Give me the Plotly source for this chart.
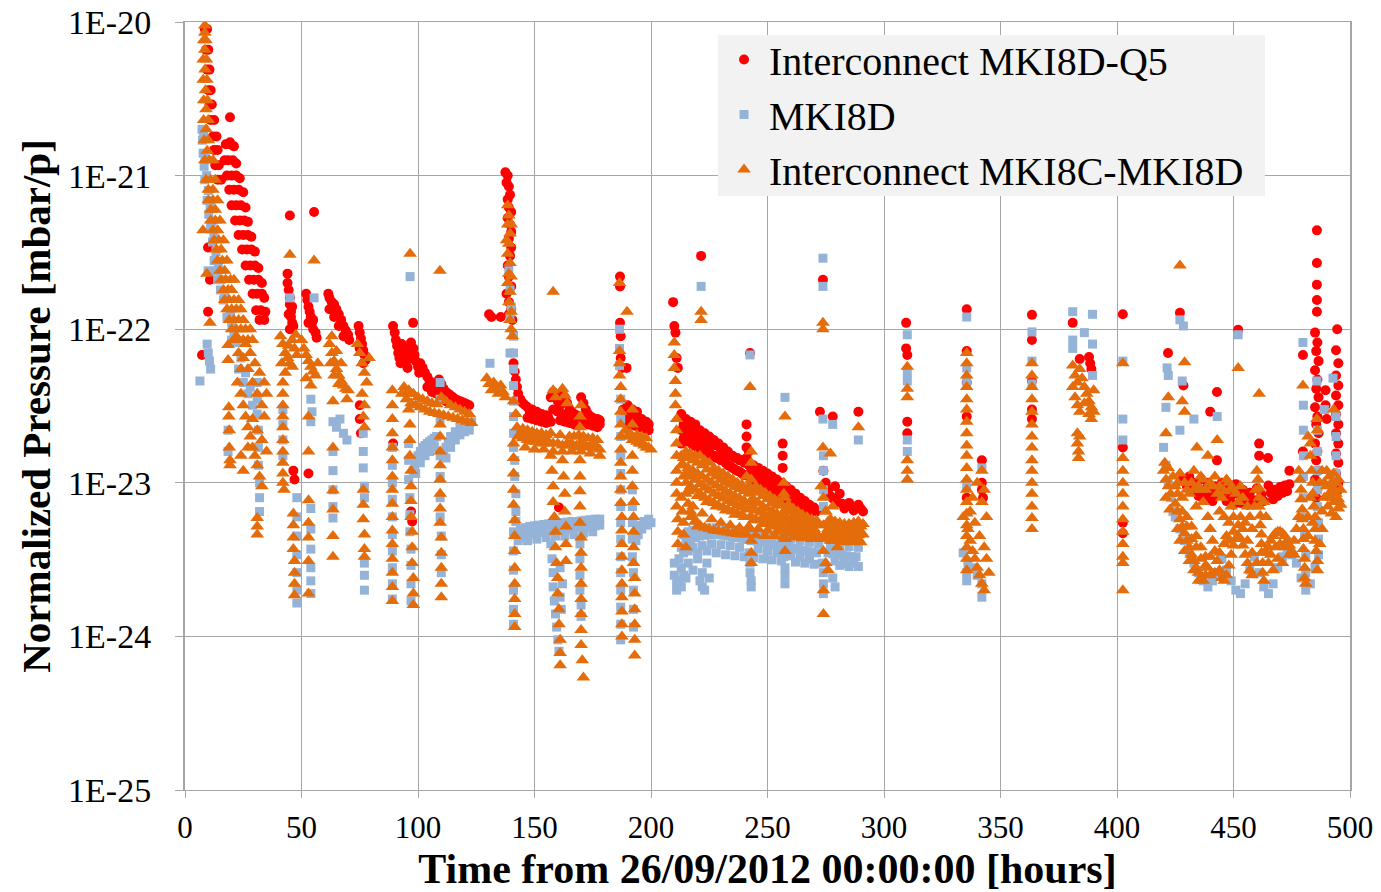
import plotly.graph_objects as go

# ---------------- axis / legend text ----------------
X_TICKS = [0, 50, 100, 150, 200, 250, 300, 350, 400, 450, 500]
Y_TICK_VALUES = [1e-25, 1e-24, 1e-23, 1e-22, 1e-21, 1e-20]
Y_TICK_LABELS = ["1E-25", "1E-24", "1E-23", "1E-22", "1E-21", "1E-20"]
SERIES_NAMES = ["Interconnect MKI8D-Q5", "MKI8D", "Interconnect MKI8C-MKI8D"]
X_TITLE = "Time from 26/09/2012 00:00:00 [hours]"
Y_TITLE = "Normalized Pressure [mbar/p]"

# ---------------- Interconnect MKI8D-Q5 (red) : (hours, mbar/p) ----------------
red_start = [
    (8.5, 9e-21), (9.5, 9e-21), (9, 6.6e-21), (10, 6.6e-21), (9.5, 4.9e-21), (10.5, 4.9e-21), (10, 3.6e-21), (11, 3.6e-21),
    (10.5, 2.9e-21), (11.5, 2.9e-21), (11, 2.3e-21), (12.5, 2.3e-21), (12, 1.8e-21), (13.5, 1.8e-21), (12.5, 1.47e-21),
    (14, 1.47e-21), (13, 1.17e-21), (14.5, 1.17e-21), (14, 9.4e-22), (15.5, 9.4e-22), (19.3, 2.4e-21), (19.3, 1.65e-21),
    (17.5, 1.6e-21), (19, 1.6e-21), (21, 1.55e-21), (17, 1.26e-21), (18.5, 1.26e-21), (20.5, 1.26e-21), (22, 1.2e-21),
    (18, 1e-21), (20, 1e-21), (22, 1e-21), (23.5, 9.6e-22), (19, 8.1e-22), (21, 8.1e-22), (23, 8.1e-22), (25, 7.8e-22),
    (20, 6.4e-22), (22, 6.4e-22), (24, 6.4e-22), (26, 6.2e-22), (21.5, 5.1e-22), (23.5, 5.1e-22), (25.5, 5.1e-22), (27, 5e-22),
    (23, 4.1e-22), (25, 4.1e-22), (27, 4.1e-22), (28.5, 4e-22), (24.5, 3.3e-22), (26.5, 3.3e-22), (28.5, 3.3e-22), (30, 3.2e-22),
    (26, 2.6e-22), (28, 2.6e-22), (30, 2.6e-22), (31.5, 2.5e-22), (27.5, 2.1e-22), (29.5, 2.1e-22), (31.5, 2.1e-22), (33, 2e-22),
    (29, 1.7e-22), (31, 1.7e-22), (33, 1.7e-22), (34, 1.6e-22), (30.5, 1.33e-22), (32.5, 1.33e-22), (34.5, 1.3e-22),
    (32, 1.15e-22), (34, 1.15e-22), (9.9, 3.4e-22), (10.7, 2.1e-22), (9.9, 1.3e-22), (7.3, 6.8e-23),
]
red_40_125 = [
    (45, 5.5e-22), (55.4, 5.8e-22), (44, 2.3e-22), (44, 2.0e-22), (44.5, 1.8e-22), (45, 1.6e-22), (45, 1.45e-22), (45.5, 1.3e-22),
    (45.5, 1.2e-22), (46, 1.1e-22), (46.5, 1.05e-22), (44.5, 1.25e-22), (45, 1.0e-22), (46, 1.4e-22),
    (52, 1.7e-22), (52.5, 1.55e-22), (53, 1.4e-22), (53.5, 1.3e-22), (54, 1.2e-22), (54.5, 1.1e-22), (55, 1.0e-22), (56, 9.5e-23),
    (53, 1.1e-22), (55, 1.15e-22), (56.5, 8.8e-23), (61.5, 1.7e-22), (62, 1.6e-22), (63, 1.5e-22), (64, 1.45e-22), (65, 1.35e-22),
    (66, 1.25e-22), (67, 1.15e-22), (68, 1.05e-22), (69, 9.8e-23), (70, 9.2e-23), (62, 1.35e-22), (64, 1.2e-22), (66, 1.05e-22),
    (68, 9e-23), (70.5, 8.5e-23), (74.5, 1.05e-22), (75, 9.5e-23), (75.5, 8.7e-23), (76, 8e-23), (76.5, 7.3e-23), (77, 6.8e-23),
    (77.5, 6.3e-23), (75, 7.5e-23), (76.5, 6e-23), (75, 3.2e-23), (75, 2.6e-23), (75.5, 2.1e-23), (46.5, 1.2e-23), (47, 1.05e-23),
    (53, 1.15e-23), (89.3, 1.05e-22), (97.9, 1.1e-22), (89.3, 1.8e-23), (97, 6.5e-24), (97.5, 5.6e-24),
    (90, 9.5e-23), (90.5, 8.5e-23), (91, 7.8e-23), (91.5, 7e-23), (92, 6.5e-23), (92.5, 6e-23), (93, 8e-23), (94, 7.5e-23),
    (94.5, 6.8e-23), (95, 6.2e-23), (95.5, 5.6e-23), (96, 7.2e-23), (96.5, 6.5e-23), (97, 8.2e-23), (98, 7.5e-23), (98.5, 6.8e-23),
    (99, 6.2e-23), (100, 5.7e-23), (100.5, 5.2e-23), (101, 6e-23), (102, 5.6e-23), (103, 5.2e-23), (104, 4.9e-23), (105, 4.6e-23),
    (106, 4.4e-23), (107, 4.2e-23), (108, 4.5e-23), (109, 4.7e-23), (110, 4.4e-23), (111, 4.1e-23), (112, 3.9e-23), (113, 3.8e-23),
    (114, 3.7e-23), (115, 3.6e-23), (116, 3.5e-23), (117, 3.45e-23), (118, 3.4e-23), (119, 3.35e-23), (120, 3.3e-23),
    (121, 3.25e-23), (122, 3.2e-23), (104, 4.2e-23), (106, 3.9e-23), (108, 3.8e-23), (110, 3.6e-23), (112, 3.4e-23),
    (114, 3.3e-23), (116, 3.2e-23), (118, 3.1e-23), (120, 3.0e-23),
]
red_128_200 = [
    (130.5, 1.25e-22), (131.5, 1.2e-22), (135.5, 1.2e-22), (137.5, 1.05e-21), (138.5, 1.0e-21), (138, 9e-22), (139, 8.5e-22),
    (139.5, 7.5e-22), (138.5, 7e-22), (139, 6.2e-22), (140, 5.8e-22), (138.5, 5.3e-22), (139.5, 4.8e-22), (140, 4.3e-22),
    (139, 3.9e-22), (140, 3.4e-22), (139.5, 3e-22), (138.5, 2.6e-22), (139, 2.2e-22), (140, 1.9e-22), (138, 1.7e-22),
    (139, 1.5e-22), (140, 1.35e-22), (139, 1.25e-22), (140.5, 1.15e-22), (141, 6e-23), (141.5, 5.3e-23), (142, 4.7e-23),
    (142.5, 4.2e-23), (143, 3.8e-23), (144, 3.5e-23), (145, 3.3e-23), (146, 3.2e-23),
    (147, 3.1e-23), (148, 2.9e-23), (149, 3.0e-23), (150, 2.8e-23), (151, 2.9e-23), (152, 2.75e-23), (153, 2.8e-23), (154, 2.7e-23),
    (155, 2.75e-23), (156, 2.65e-23), (157, 3.6e-23), (158, 3.9e-23), (159, 3.7e-23), (160, 3.4e-23), (161, 3.2e-23), (162, 3.9e-23),
    (163, 3.6e-23), (164, 3.3e-23), (165, 3.0e-23), (166, 2.9e-23), (167, 2.8e-23), (168, 2.75e-23), (170, 3.6e-23), (171, 3.3e-23),
    (172, 3.0e-23), (173, 2.8e-23), (174, 2.7e-23), (175, 2.65e-23), (176, 2.6e-23), (177, 2.6e-23), (178, 2.55e-23),
    (158, 3.0e-23), (160, 2.9e-23), (162, 2.8e-23), (164, 2.7e-23), (166, 2.6e-23), (169, 2.7e-23), (178, 2.4e-23),
    (147, 2.65e-23), (149, 2.6e-23), (151, 2.55e-23), (153, 2.5e-23), (155, 2.45e-23), (157, 2.5e-23), (161, 2.55e-23),
    (163, 2.5e-23), (165, 2.45e-23), (167, 2.4e-23), (171, 2.45e-23), (173, 2.4e-23), (175, 2.35e-23), (177, 2.3e-23),
    (160, 5.5e-24), (160.5, 6.9e-24), (186.7, 2.2e-22), (186.7, 1.9e-22), (186.7, 1.1e-22), (187, 9e-23), (187, 6.5e-23),
    (187.5, 5.6e-23), (189.5, 5.6e-23), (188, 3.0e-23), (189, 2.8e-23), (190, 2.7e-23), (191, 2.8e-23), (192, 2.6e-23),
    (193, 2.7e-23), (194, 2.55e-23), (195, 2.5e-23), (196, 2.6e-23), (197, 2.45e-23), (198, 2.5e-23), (199, 2.4e-23),
    (190, 3.2e-23), (192, 3.0e-23), (194, 2.9e-23), (189, 2.45e-23), (191, 2.4e-23), (193, 2.35e-23), (195, 2.3e-23),
    (197, 2.25e-23), (199, 2.2e-23),
]
red_208_292 = [
    (209.5, 1.5e-22), (210, 1.05e-22), (210.5, 9.5e-23), (211, 6.5e-23), (211.5, 5.6e-23), (221.5, 3.0e-22), (242.5, 7e-23),
    (273.8, 2.1e-22), (272.5, 2.9e-23), (278, 2.7e-23), (289, 2.9e-23),
    (213, 2.8e-23), (213, 2.2e-23), (213, 1.8e-23), (215, 2.6e-23), (215, 2.1e-23), (217, 2.5e-23), (217, 2.0e-23), (219, 2.4e-23),
    (219, 1.9e-23), (221, 2.2e-23), (221, 1.8e-23), (223, 2.1e-23), (223, 1.7e-23), (225, 2.0e-23), (225, 1.6e-23), (227, 1.9e-23),
    (227, 1.5e-23), (229, 1.8e-23), (229, 1.45e-23), (231, 1.7e-23), (231, 1.4e-23), (233, 1.6e-23), (233, 1.3e-23), (235, 1.5e-23),
    (235, 1.25e-23), (237, 1.45e-23), (237, 1.2e-23), (239, 1.4e-23), (239, 1.15e-23), (241, 2.4e-23), (241, 2.0e-23),
    (241, 1.7e-23), (241, 1.45e-23), (242, 1.6e-23), (242, 1.3e-23), (242, 1.1e-23), (244, 1.3e-23), (244, 1.05e-23),
    (246, 1.25e-23), (246, 1.0e-23), (248, 1.2e-23), (248, 9.6e-24), (250, 1.15e-23), (250, 9.2e-24), (252, 1.1e-23),
    (252, 8.8e-24), (254, 1.05e-23), (254, 8.4e-24), (256.5, 1.8e-23), (256.5, 1.5e-23), (256.5, 1.25e-23), (256, 1.0e-23),
    (256, 8.0e-24), (258, 9.5e-24), (258, 7.7e-24), (260, 9.0e-24), (260, 7.3e-24), (262, 8.5e-24), (262, 7.0e-24),
    (264, 8.0e-24), (264, 6.7e-24), (266, 7.6e-24), (266, 6.5e-24), (268, 7.2e-24), (268, 6.3e-24), (270, 6.9e-24),
    (274, 1.2e-23), (275, 1.0e-23), (276, 9e-24), (277, 8.2e-24), (278, 7.9e-24), (280, 7.5e-24), (282, 7.3e-24),
    (284, 7.1e-24), (286, 7.0e-24), (288, 6.9e-24), (290, 6.8e-24), (279, 9.5e-24), (281, 8.5e-24),
    (214, 2.4e-23), (214, 1.95e-23), (216, 2.3e-23), (216, 1.85e-23), (218, 2.2e-23), (218, 1.75e-23), (220, 2.1e-23),
    (220, 1.7e-23), (222, 2.0e-23), (222, 1.6e-23), (224, 1.9e-23), (224, 1.55e-23), (226, 1.8e-23), (226, 1.5e-23),
    (228, 1.75e-23), (228, 1.45e-23), (230, 1.65e-23), (230, 1.4e-23), (232, 1.6e-23), (232, 1.35e-23), (234, 1.5e-23),
    (234, 1.28e-23), (236, 1.45e-23), (236, 1.22e-23), (238, 1.4e-23), (238, 1.18e-23), (240, 1.35e-23), (240, 1.12e-23),
    (243, 1.2e-23), (245, 1.15e-23), (247, 1.1e-23), (249, 1.05e-23), (251, 1.0e-23), (253, 9.6e-24), (255, 9.2e-24),
    (257, 8.8e-24), (259, 8.4e-24), (261, 8.0e-24), (263, 7.6e-24), (265, 7.2e-24), (267, 6.9e-24), (269, 6.6e-24),
    (271, 6.5e-24), (245, 9.3e-24), (249, 8.7e-24), (253, 8e-24), (257, 7.4e-24), (261, 6.9e-24), (265, 6.6e-24),
    (283, 6.8e-24), (285, 7.4e-24), (287, 6.6e-24), (289, 7.2e-24), (291, 6.5e-24),
]
red_300_500 = [
    (309.5, 1.1e-22), (309.5, 7.5e-23), (310, 6.8e-23), (310, 2.5e-23), (310, 2.1e-23), (335.5, 1.35e-22), (335.5, 7.2e-23),
    (335.5, 4.5e-23), (335.5, 2.7e-23), (335.5, 8e-24), (342, 1.4e-23), (342, 1.0e-23), (342, 9e-24), (342.5, 8e-24),
    (363.5, 1.24e-22), (363.5, 8.5e-23), (363.5, 4.6e-23), (363.5, 3e-23), (363.5, 2.6e-23), (381, 1.1e-22), (384, 6.4e-23),
    (388, 6.6e-23), (388.5, 6e-23), (389, 5.5e-23), (402.5, 1.25e-22), (402.5, 1.7e-23), (402.5, 5.5e-24), (402.5, 4.7e-24),
    (421.9, 7e-23), (427, 1.28e-22), (428.5, 4.3e-23), (442.9, 3.9e-23), (440, 2.9e-23), (442.9, 1.4e-23), (452, 9.9e-23),
    (461, 1.8e-23), (461, 1.5e-23), (464.8, 1.45e-23), (474, 1.2e-23), (479.8, 1.6e-23), (479.8, 6.8e-23),
    (428, 1.05e-23), (430, 9.5e-24), (431, 1.1e-23), (432, 8.8e-24), (433, 1.0e-23), (434, 9.2e-24), (435, 8.2e-24),
    (436, 1.05e-23), (437, 9e-24), (438, 8e-24), (439, 1.0e-23), (440, 8.7e-24), (441, 7.6e-24), (442, 9.5e-24), (443, 8.3e-24),
    (445, 1.0e-23), (446, 8.8e-24), (447, 7.6e-24), (448, 9.4e-24), (449, 8.2e-24), (450, 7.2e-24), (451, 9.8e-24),
    (452, 8.5e-24), (453, 7.4e-24), (454, 9e-24), (455, 8e-24), (456, 7.2e-24), (457, 8.6e-24), (459, 7.7e-24), (460, 9.2e-24),
    (462, 8.4e-24), (463, 7.6e-24), (465, 9.6e-24), (466, 8.6e-24), (467, 7.8e-24), (468, 9.0e-24), (469, 8.2e-24),
    (470, 9.4e-24), (471, 8.6e-24), (472, 9.6e-24), (473, 8.8e-24), (474, 9.8e-24),
    (485.8, 4.4e-22), (485.8, 2.7e-22), (485.8, 1.95e-22), (485.8, 1.55e-22), (485.8, 1.3e-22),
    (485, 9.5e-23), (486, 8.2e-23), (485.5, 7.2e-23), (486.5, 6.2e-23), (485, 5.4e-23), (486, 4.7e-23), (485.5, 4.1e-23),
    (486.5, 3.6e-23), (485, 3.1e-23), (486, 2.7e-23), (485.5, 2.4e-23), (486.5, 2.1e-23), (485, 1.8e-23), (486, 1.6e-23),
    (485.5, 1.4e-23), (486.5, 1.2e-23), (485, 1.05e-23), (486, 9e-24), (485.5, 8e-24), (489.5, 4e-23), (489.5, 3.2e-23),
    (490, 2.6e-23), (494.5, 1.0e-22), (494, 7.3e-23), (495, 6e-23), (494, 5e-23), (495, 4.3e-23), (494, 3.7e-23),
    (495, 3.2e-23), (494, 2.8e-23), (495, 2.4e-23), (494, 2.1e-23), (495, 1.8e-23), (494, 1.55e-23), (495, 1.35e-23),
    (494, 1.15e-23), (495, 1.0e-23), (494.5, 8.8e-24),
]

# ---------------- MKI8D (light blue) ----------------
blue_start = [
    (6.4, 4.6e-23), (9.5, 8e-23), (10, 7e-23), (10.5, 6.2e-23), (11, 5.5e-23),
    (7.3, 2.0e-21), (7.5, 1.7e-21), (7.8, 1.4e-21), (8.2, 1.15e-21), (8.5, 9.4e-22), (9.5, 6.9e-22), (10.2, 5.6e-22),
    (11, 4.6e-22), (11.8, 3.7e-22), (12.5, 2.8e-22), (13.3, 2.4e-22), (14, 2.1e-22), (15.2, 1.8e-22), (16.5, 1.55e-22),
    (18, 1.2e-22), (20, 8.5e-23), (22, 8.2e-23), (8, 1.8e-21), (8.6, 1.3e-21), (9.3, 1e-21), (10, 8e-22), (10.8, 6.3e-22),
    (11.6, 5e-22), (12.4, 4e-22), (13.3, 3.2e-22), (14.3, 2.6e-22), (15.5, 2.1e-22), (17, 1.7e-22),
    (9.9, 2.4e-22), (19.5, 1.3e-22), (20, 1.1e-22), (21, 9.5e-23), (18.5, 2.2e-23), (18.5, 1.6e-23),
    (31, 4.5e-23), (31, 3.5e-23), (31, 2.8e-23), (31.5, 2.2e-23), (31.5, 1.7e-23), (31.5, 1.3e-23), (32, 1.0e-23), (32, 8e-24),
    (32, 6.5e-24), (23, 5.5e-23), (25, 4.5e-23), (27, 3.8e-23), (29, 3.2e-23), (24, 6.5e-23), (26, 5.2e-23), (28, 4.2e-23),
]
blue_40_125 = [
    (45, 1.6e-22), (55.4, 1.6e-22), (96.6, 2.2e-22), (42, 3e-23), (42, 2.4e-23), (42, 1.9e-23), (42, 1.5e-23),
    (48, 8e-24), (48, 6e-24), (48, 4.5e-24), (48, 3.4e-24), (48, 2.6e-24), (48, 2.0e-24), (48, 1.65e-24),
    (54, 3.5e-23), (54.5, 2.9e-23), (54, 2.5e-23), (54, 6.8e-24), (54, 5e-24), (54, 3.7e-24), (54, 2.8e-24), (54, 2.3e-24),
    (54, 1.9e-24), (63.5, 2.5e-23), (65, 2.3e-23), (66.5, 2.6e-23), (68, 2.1e-23), (69.5, 1.9e-23), (63.5, 1.6e-23),
    (63.5, 1.2e-23), (63.5, 9e-24), (63.5, 7e-24), (63.5, 5.9e-24), (76.5, 2.1e-23), (76.5, 1.6e-23), (76.5, 1.25e-23),
    (77, 9.5e-24), (77, 8e-24), (77, 3e-24), (77, 2.5e-24), (77, 2.0e-24),
    (89, 1.7e-23), (89, 1.3e-23), (89, 1.0e-23), (89, 7.8e-24), (89, 6e-24), (89, 4.6e-24), (89, 3.6e-24), (89, 2.8e-24),
    (89, 2.2e-24), (89, 1.75e-24), (96, 1.8e-23), (96, 1.4e-23), (96, 1.05e-23), (96.5, 8e-24), (96.5, 6.2e-24),
    (96.5, 4.8e-24), (97, 3.7e-24), (97, 2.9e-24), (97, 2.2e-24), (97, 1.7e-24),
    (98, 1.2e-23), (99, 1.35e-23), (100, 1.5e-23), (101, 1.6e-23), (102, 1.7e-23), (103, 1.75e-23), (104, 1.8e-23),
    (105, 1.85e-23), (106, 1.9e-23), (107, 1.95e-23), (108, 2.0e-23), (109.5, 4.5e-23), (109.5, 3.5e-23), (109.5, 2.6e-23),
    (109.5, 1.5e-23), (109.5, 1.1e-23), (109.5, 8e-24), (109.5, 6e-24), (110, 4.5e-24), (110, 3.4e-24), (110, 2.6e-24),
    (111, 1.5e-23), (112, 1.7e-23), (113, 1.85e-23), (114, 2e-23), (116, 2.15e-23), (118, 2.3e-23), (120, 2.4e-23),
    (122, 2.45e-23), (123, 2.5e-23), (99, 1.15e-23), (101, 1.35e-23), (103, 1.5e-23), (105, 1.6e-23), (107, 1.7e-23),
    (112, 1.45e-23), (114, 1.7e-23), (116, 1.9e-23), (118, 2.05e-23), (120, 2.15e-23), (122, 2.2e-23),
]
blue_128_200 = [
    (130.9, 6e-23), (139.5, 7e-23), (139, 2.4e-22), (139.5, 1.8e-22), (140, 1.4e-22), (139.5, 1.2e-22),
    (141, 9e-23), (141, 7e-23), (141, 5.5e-23), (141, 4.3e-23), (141, 3.4e-23), (141, 2.7e-23), (141, 2.1e-23), (141, 1.7e-23),
    (141.5, 1.4e-23), (141.5, 1.1e-23), (142, 8.5e-24), (142, 6.5e-24), (142, 5.6e-24), (141, 4.8e-24), (141, 3.6e-24),
    (141, 2.7e-24), (141, 2.0e-24), (141, 1.5e-24), (141, 1.2e-24),
    (143, 4.2e-24), (144, 4.4e-24), (145, 4.5e-24), (146, 4.6e-24), (148, 4.65e-24), (150, 4.7e-24), (152, 4.75e-24),
    (154, 4.8e-24), (156, 4.85e-24), (158, 4.9e-24), (160, 4.9e-24), (162, 4.95e-24), (164, 5.0e-24), (166, 5.0e-24),
    (168, 5.1e-24), (170, 5.1e-24), (172, 5.15e-24), (174, 5.2e-24), (176, 5.25e-24), (178, 5.3e-24),
    (147, 4.2e-24), (151, 4.3e-24), (155, 4.4e-24), (159, 4.5e-24), (163, 4.5e-24), (167, 4.6e-24), (171, 4.7e-24),
    (175, 4.8e-24), (144, 5.0e-24), (146, 5.1e-24), (148, 5.2e-24), (150, 5.25e-24), (152, 5.3e-24), (154, 5.35e-24),
    (156, 5.4e-24), (158, 5.45e-24), (160, 5.5e-24), (162, 5.5e-24), (164, 5.55e-24), (166, 5.6e-24), (168, 5.6e-24),
    (170, 5.65e-24), (172, 5.7e-24), (174, 5.75e-24), (176, 5.8e-24), (178, 5.8e-24), (149, 4.9e-24), (153, 5.0e-24),
    (157, 5.1e-24), (161, 5.2e-24), (165, 5.25e-24), (169, 5.3e-24), (173, 5.4e-24), (177, 5.5e-24),
    (157, 4e-24), (157.5, 3.2e-24), (158, 2.6e-24), (158, 2.1e-24), (158.5, 1.7e-24), (159, 1.4e-24),
    (159.5, 1.15e-24), (160, 9.5e-25), (160.5, 8e-25), (161, 2.8e-24), (162, 2.2e-24), (161, 1.8e-24), (161.5, 1.5e-24),
    (169.5, 4e-24), (169.5, 3.2e-24), (169.5, 2.5e-24), (169.5, 2.0e-24), (170, 1.6e-24), (170, 1.35e-24),
    (186.5, 1.0e-22), (186.5, 7.5e-23), (186.5, 5.8e-23), (187, 3.5e-23), (187, 2.6e-23), (187, 2.0e-23), (187, 1.5e-23),
    (187, 1.15e-23), (187, 9e-24), (187, 7e-24), (187, 5.5e-24), (187, 4.3e-24), (187, 3.3e-24), (187, 2.6e-24), (187, 2.0e-24),
    (187, 1.55e-24), (187, 1.2e-24), (187, 9.5e-25), (192, 9e-24), (192, 7e-24), (192, 5.5e-24), (192, 4.3e-24), (192, 3.3e-24),
    (192.5, 2.6e-24), (192.5, 2e-24), (192.5, 1.5e-24), (192.5, 1.15e-24), (193.5, 4.2e-24), (194.5, 4.6e-24), (196, 5e-24),
    (198, 5.3e-24), (200, 5.5e-24), (195, 5.3e-24), (197, 5.6e-24), (199, 5.8e-24),
]
blue_208_292 = [
    (221.5, 1.9e-22), (242.5, 6.8e-23), (257.5, 3.6e-23), (273.8, 2.9e-22), (273.8, 1.9e-22), (273.8, 2.6e-23), (278, 2.4e-23),
    (289, 1.9e-23), (210, 3e-24), (210, 2.5e-24), (211, 2.2e-24),
    (213, 3.8e-24), (215, 4.1e-24), (217, 4.3e-24), (219, 4.4e-24), (221, 4.5e-24), (223, 4.55e-24), (225, 4.6e-24),
    (227, 4.6e-24), (229, 4.6e-24), (231, 4.55e-24), (233, 4.5e-24), (235, 4.45e-24), (237, 4.4e-24), (239, 4.35e-24),
    (241, 4.3e-24), (243, 4.2e-24), (245, 4.2e-24), (247, 4.15e-24), (249, 4.1e-24), (251, 4.0e-24), (253, 3.95e-24),
    (255, 3.9e-24), (257, 3.85e-24), (259, 3.8e-24), (261, 3.75e-24), (263, 3.7e-24), (265, 3.65e-24), (267, 3.6e-24),
    (269, 3.55e-24), (271, 3.5e-24), (276, 3.5e-24), (278, 3.45e-24), (280, 3.4e-24), (282, 3.4e-24), (284, 3.35e-24),
    (286, 3.3e-24), (288, 3.3e-24), (214, 3.5e-24), (218, 3.8e-24), (222, 3.9e-24), (226, 4.0e-24), (230, 3.95e-24),
    (234, 3.9e-24), (238, 3.8e-24), (246, 3.7e-24), (250, 3.6e-24), (254, 3.5e-24), (260, 3.35e-24), (264, 3.3e-24),
    (268, 3.2e-24), (279, 3.1e-24), (283, 3.0e-24), (287, 3.0e-24), (212, 3.2e-24), (213, 2.8e-24), (214, 2.5e-24),
    (216, 3.0e-24), (218, 2.7e-24), (220, 3.2e-24), (222, 2.6e-24), (224, 3.0e-24), (242, 3.5e-24), (242.5, 3e-24),
    (242.5, 2.6e-24), (257, 3.3e-24), (257.5, 2.8e-24), (257.5, 2.5e-24), (273.5, 3.0e-24), (274, 2.6e-24), (274, 2.2e-24),
    (274, 1.9e-24), (274, 1.5e-23), (274, 1.2e-23), (274, 9e-24), (274, 7e-24),
    (214, 4.6e-24), (216, 4.8e-24), (218, 4.9e-24), (220, 5.0e-24), (224, 5.1e-24), (228, 5.1e-24), (232, 5.05e-24),
    (236, 4.95e-24), (240, 4.85e-24), (244, 4.7e-24), (248, 4.6e-24), (252, 4.5e-24), (256, 4.4e-24), (260, 4.3e-24),
    (264, 4.2e-24), (268, 4.1e-24), (272, 4.0e-24), (277, 3.95e-24), (281, 3.9e-24), (285, 3.85e-24), (289, 3.8e-24),
    (216, 3.6e-24), (220, 3.5e-24), (224, 3.6e-24), (228, 3.5e-24), (232, 3.4e-24), (236, 3.35e-24), (240, 3.3e-24),
    (244, 3.25e-24), (248, 3.2e-24), (252, 3.15e-24), (256, 3.1e-24), (262, 3.05e-24), (266, 3.0e-24), (270, 2.95e-24),
    (281, 2.9e-24), (285, 2.85e-24), (289, 2.85e-24),
    (211, 2.0e-24), (212, 2.3e-24), (213, 2.1e-24), (215, 2.4e-24), (221, 2.3e-24), (222, 2.1e-24), (223, 2.0e-24),
    (225, 2.4e-24), (243, 2.3e-24), (243, 2.1e-24), (257.5, 2.2e-24), (278, 2.4e-24), (279, 2.1e-24),
]
blue_300_500 = [
    (310, 9.2e-23), (310, 5.2e-23), (310, 4.6e-23), (310, 1.9e-23), (310, 1.6e-23), (335.5, 1.2e-22), (335.5, 5.6e-23),
    (335.5, 4.6e-23), (335.5, 9.4e-24), (335.5, 2.6e-24), (335.5, 2.3e-24), (334, 3.5e-24), (336, 3e-24), (338, 2.8e-24),
    (340, 2.5e-24), (342, 2.2e-24), (342, 1.8e-24), (342, 1.25e-23), (363.5, 9.6e-23), (363.5, 6.2e-23), (363.5, 4.4e-23),
    (381, 1.3e-22), (389.5, 1.25e-22), (386, 9.5e-23), (381, 8.5e-23), (381, 7.5e-23), (389.5, 8e-23), (389.5, 5e-23),
    (402.5, 6.2e-23), (402.5, 2.6e-23), (402.5, 1.9e-23), (427, 1.15e-22), (428.5, 1.05e-22), (421.5, 5.6e-23), (422, 5e-23),
    (428, 4.6e-23), (421, 3.1e-23), (427, 2.2e-23), (433, 2.6e-23), (443, 2.7e-23), (452, 9.2e-23), (479.8, 8.2e-23),
    (485.8, 4.6e-23), (489, 3e-23), (492.7, 4.8e-23), (420, 1.7e-23), (421, 1.3e-23), (422, 1.0e-23), (423, 8e-24),
    (424, 6.5e-24), (425, 6e-24), (427, 5e-24), (429, 4.2e-24), (431, 3.5e-24), (433, 3e-24), (435, 2.6e-24), (437, 2.3e-24),
    (439, 2.1e-24), (441, 2.3e-24), (443, 2.6e-24), (445, 3.2e-24), (447, 2.7e-24), (449, 2.3e-24), (451, 2.0e-24),
    (453, 1.9e-24), (455, 2.2e-24), (457, 2.7e-24), (459, 3.3e-24), (461, 2.6e-24), (463, 2.1e-24), (465, 1.9e-24),
    (467, 2.2e-24), (469, 2.8e-24), (471, 3.3e-24), (473, 3.6e-24), (475, 3.4e-24), (477, 3.0e-24), (479, 2.4e-24),
    (481, 2.0e-24), (483, 2.2e-24), (485, 2.8e-24), (480, 3.2e-23), (480, 2.2e-23), (480, 1.5e-23), (480, 1.1e-23),
    (480, 8e-24), (480.5, 6e-24), (480.5, 4.5e-24), (481, 3.4e-24), (481, 2.6e-24), (486, 2.2e-23), (486, 1.6e-23),
    (486, 1.2e-23), (486, 9e-24), (486, 7e-24), (486.5, 5.5e-24), (486.5, 4.3e-24), (486.5, 3.4e-24), (494, 2.7e-23),
    (494, 2.0e-23), (494, 1.5e-23), (494, 1.15e-23),
]

# ---------------- Interconnect MKI8C-MKI8D (orange) ----------------
orange_start = [
    (8.5, 9.5e-21), (8.5, 8.5e-21), (8, 7.6e-21), (9, 7.6e-21), (7.8, 5.7e-21), (9.2, 5.7e-21), (8.5, 6.6e-21), (7.8, 4.2e-21),
    (9.4, 4.2e-21), (8.6, 4.9e-21), (8, 3.1e-21), (9.6, 3.1e-21), (8.8, 3.6e-21), (8, 2.3e-21), (10, 2.3e-21), (9, 2.7e-21),
    (8.2, 1.7e-21), (10, 1.7e-21), (9.1, 2.0e-21), (8.5, 1.26e-21), (10.5, 1.26e-21), (12, 1.26e-21), (9.5, 1.45e-21),
    (9, 9.4e-22), (11, 9.4e-22), (13, 9.4e-22), (10, 6.9e-22), (12, 6.9e-22), (14, 6.9e-22), (11, 5.1e-22), (13, 5.1e-22),
    (15, 5.1e-22), (12.5, 3.8e-22), (14.5, 3.8e-22), (16.5, 3.8e-22), (14, 2.8e-22), (16, 2.8e-22), (18, 2.8e-22),
    (15.5, 2.1e-22), (17.5, 2.1e-22), (19.5, 2.1e-22), (21, 2.1e-22), (17, 1.55e-22), (19, 1.55e-22), (21, 1.55e-22),
    (23, 1.55e-22), (19, 1.15e-22), (21, 1.15e-22), (23, 1.15e-22), (25, 1.15e-22), (21, 8.5e-23), (23, 8.5e-23),
    (25, 8.5e-23), (27, 8.5e-23), (29, 8.5e-23), (10, 8.1e-22), (12, 8.1e-22), (11, 6e-22), (13, 6e-22), (12, 4.4e-22),
    (14, 4.4e-22), (13.5, 3.3e-22), (15.5, 3.3e-22), (15, 2.4e-22), (17, 2.4e-22), (16.5, 1.8e-22), (18.5, 1.8e-22),
    (20, 1.8e-22), (18, 1.35e-22), (20, 1.35e-22), (22, 1.35e-22), (24, 1.35e-22), (20, 1.0e-22), (22, 1.0e-22),
    (24, 1.0e-22), (26, 1.0e-22), (28, 1.0e-22), (7.7, 4.4e-22), (9.4, 2.3e-22), (10.7, 1.1e-22),
    (18.5, 7.9e-23), (18.5, 6.3e-23), (18.8, 3.1e-23), (18.8, 2.7e-23), (19, 2.2e-23), (19, 1.7e-23), (19.3, 1.4e-23),
    (19.3, 1.3e-23), (22, 9e-23), (23, 7e-23), (24, 5.5e-23), (22.5, 4.5e-23), (24, 3.8e-23), (25, 3.2e-23), (26, 2.7e-23),
    (27, 2.3e-23), (28, 2e-23), (29, 1.7e-23), (30, 1.5e-23), (31, 1.3e-23), (32, 1.1e-23), (33, 9.5e-24), (25, 6.5e-23),
    (27, 5.5e-23), (29, 4.5e-23), (31, 3.8e-23), (33, 3.2e-23), (34, 2.7e-23), (26, 8e-23), (28, 7e-23), (30, 6e-23),
    (32, 5.2e-23), (34, 4.5e-23), (35, 3.8e-23), (24, 1.5e-23), (25, 1.2e-23), (27, 1.7e-23), (29, 2.6e-23), (31, 2.2e-23),
    (33, 1.9e-23), (35, 1.6e-23), (31, 5.9e-24), (31, 5.2e-24), (31, 4.6e-24),
]
orange_40_125 = [
    (45, 3.05e-22), (55.4, 2.8e-22), (96.6, 3.1e-22), (109.4, 2.4e-22),
    (41, 9e-23), (42, 8e-23), (43, 7e-23), (44, 6.5e-23), (45, 6e-23), (46, 5.7e-23), (47, 7.5e-23), (48, 6.8e-23),
    (41.5, 6e-23), (43, 5.2e-23), (44.5, 7.8e-23), (46, 8.5e-23), (47.5, 9.2e-23), (42, 4.5e-23), (42, 3.8e-23),
    (42, 3.2e-23), (42, 2.7e-23), (42, 2.3e-23), (42, 1.9e-23), (42, 1.6e-23), (42, 1.35e-23), (42, 1.15e-23), (42, 1.0e-23),
    (42.5, 9e-24), (46.5, 6.3e-24), (46.5, 5.3e-24), (46.5, 4.4e-24), (46.5, 3.7e-24), (47, 3.1e-24), (47, 2.6e-24),
    (47, 2.2e-24), (47, 1.85e-24), (53, 2.7e-23), (53, 1.6e-23), (53, 7.7e-24), (53, 5.5e-24), (53, 4.4e-24), (53, 3.1e-24),
    (53, 1.9e-24), (51, 7.5e-23), (52, 6.8e-23), (53, 6.2e-23), (54, 5.7e-23), (55, 5.3e-23), (56, 5e-23), (52, 4.8e-23),
    (54, 4.3e-23), (50, 8.5e-23), (57, 6e-23), (62, 8e-23), (63, 7e-23), (64, 6.2e-23), (65, 5.5e-23), (66, 5e-23),
    (67, 4.6e-23), (68, 4.3e-23), (69, 4.1e-23), (70, 4e-23), (62.5, 6e-23), (64, 5e-23), (66, 4.4e-23), (63, 9e-23),
    (65, 7.2e-23), (67, 6e-23), (63.5, 3.4e-23), (69.5, 3.5e-23), (63.5, 1.7e-23), (63.5, 8.9e-24), (63.5, 6.7e-24),
    (63.5, 4.5e-24), (63.5, 3.3e-24), (74, 8e-23), (75, 7e-23), (76, 6e-23), (77, 5.2e-23), (78, 4.5e-23), (76, 3.8e-23),
    (77, 3.2e-23), (76.5, 2.7e-23), (77, 2.3e-23), (79, 6.5e-23), (76.5, 9e-24), (76.5, 7.2e-24), (76.5, 5.8e-24),
    (77, 4.6e-24), (77, 3.7e-24), (77, 3.3e-24),
    (89, 4e-23), (89, 3.2e-23), (89, 2.6e-23), (89, 2.1e-23), (89, 1.7e-23), (89, 1.4e-23), (89, 1.1e-23), (89, 9e-24),
    (89, 7.3e-24), (89, 6e-24), (89, 4.9e-24), (89, 4e-24), (89, 3.2e-24), (89, 2.6e-24), (89, 2.1e-24), (89, 1.7e-24),
    (96, 3.8e-23), (96, 3e-23), (96.5, 2.4e-23), (96.5, 1.9e-23), (96.5, 1.5e-23), (97, 1.2e-23), (97, 9.5e-24),
    (97, 7.6e-24), (97, 6e-24), (97.5, 4.8e-24), (97.5, 3.8e-24), (97.5, 3e-24), (98, 2.4e-24), (98, 1.9e-24), (98, 1.6e-24),
    (93, 3.8e-23), (95, 3.5e-23), (97, 3.3e-23), (99, 3.2e-23), (101, 3.1e-23), (103, 3.0e-23), (105, 2.9e-23),
    (107, 2.85e-23), (109, 2.8e-23), (111, 2.75e-23), (113, 2.7e-23), (115, 2.65e-23), (117, 2.6e-23), (119, 2.55e-23),
    (121, 2.5e-23), (123, 2.45e-23), (94, 4.2e-23), (96, 4e-23), (98, 3.8e-23), (100, 3.6e-23), (102, 3.5e-23),
    (104, 3.4e-23), (106, 3.3e-23), (108, 3.25e-23), (110, 3.6e-23), (112, 3.4e-23), (114, 3.2e-23), (116, 3.1e-23),
    (118, 3.0e-23), (120, 2.9e-23), (122, 2.8e-23), (109.5, 2.4e-23), (109.5, 2e-23), (109.5, 1.6e-23), (109.5, 1.3e-23),
    (109.5, 1.05e-23), (109.5, 8.5e-24), (109.5, 6.8e-24), (109.5, 5.5e-24), (110, 4.4e-24), (110, 3.5e-24), (110, 2.8e-24),
    (110, 2.2e-24), (110, 1.8e-24),
]
orange_128_200 = [
    (129.5, 4.8e-23), (130.5, 4.4e-23), (131.5, 4.0e-23), (132.5, 4.5e-23), (133.5, 4.1e-23), (134.5, 3.8e-23),
    (135.5, 4.3e-23), (136.5, 3.9e-23), (137.5, 3.6e-23), (138.5, 6.4e-22), (139, 5.5e-22), (138.5, 4.8e-22),
    (139.5, 4.2e-22), (139, 3.6e-22), (138.5, 3.1e-22), (139.5, 2.7e-22), (139, 2.3e-22), (138.5, 2e-22), (139.5, 1.75e-22),
    (139, 1.5e-22), (140, 1.3e-22), (139.5, 1.15e-22), (140, 1e-22), (140.5, 9e-23), (138, 3.8e-22), (140, 4.8e-22),
    (140, 2.2e-22), (141, 3.4e-23), (142, 2.8e-23), (142.5, 2.3e-23), (143, 2e-23), (141, 1.8e-23), (141, 1.45e-23),
    (141, 1.15e-23), (141, 9e-24), (141, 7.2e-24), (141.5, 5.7e-24), (141.5, 4.5e-24), (141.5, 3.6e-24), (141.5, 2.8e-24),
    (141.5, 2.2e-24), (141.5, 1.75e-24), (141.5, 1.4e-24), (141.5, 1.15e-24),
    (144, 2.1e-23), (145, 1.95e-23), (146, 2.05e-23), (147, 1.9e-23), (148, 2.0e-23), (149, 1.85e-23), (150, 1.95e-23),
    (151, 1.85e-23), (152, 1.9e-23), (153, 1.8e-23), (154, 1.9e-23), (155, 1.8e-23), (156, 1.85e-23), (158, 1.8e-23),
    (160, 1.8e-23), (162, 1.75e-23), (164, 1.8e-23), (165, 1.75e-23), (166, 1.8e-23), (167, 1.7e-23), (168, 1.75e-23),
    (170, 1.8e-23), (172, 1.75e-23), (173, 1.7e-23), (174, 1.75e-23), (175, 1.7e-23), (176, 1.7e-23), (177, 1.7e-23),
    (178, 1.65e-23), (145, 2.25e-23), (147, 2.2e-23), (149, 2.15e-23), (151, 2.1e-23), (153, 2.1e-23), (155, 2.05e-23),
    (157, 2.1e-23), (161, 2.05e-23), (165, 2.0e-23), (167, 2.0e-23), (169, 2.05e-23), (171, 2.0e-23), (173, 1.95e-23),
    (175, 1.95e-23), (177, 1.9e-23), (146, 1.7e-23), (150, 1.65e-23), (154, 1.65e-23), (158, 1.6e-23), (162, 1.6e-23),
    (166, 1.6e-23), (170, 1.6e-23), (174, 1.55e-23), (178, 1.5e-23),
    (158, 4e-23), (159, 3.6e-23), (162, 4.1e-23), (163, 3.7e-23), (164, 3.3e-23), (169.5, 2.7e-23),
    (170, 3.2e-23), (157, 1.5e-23), (157.5, 1.2e-23), (158, 9.5e-24), (158, 7.5e-24), (158.5, 6e-24), (159, 4.8e-24),
    (159, 3.8e-24), (159.5, 3e-24), (160, 2.4e-24), (160, 1.9e-24), (160.5, 1.5e-24), (160.5, 1.2e-24), (161, 9.5e-25),
    (161, 7.8e-25), (161, 6.5e-25), (162, 1.4e-23), (162.5, 1.1e-23), (163, 8.5e-24), (163, 6.5e-24), (163.5, 5.2e-24),
    (163.5, 4e-24), (163.5, 3.1e-24), (169.5, 2.3e-23), (169.5, 1.8e-23), (169.5, 1.4e-23), (169.5, 1.1e-23),
    (169.5, 8.8e-24), (169.5, 7e-24), (169.5, 5.5e-24), (170, 4.4e-24), (170, 3.5e-24), (170, 2.8e-24), (170, 2.2e-24),
    (170, 1.75e-24), (170, 1.4e-24), (170, 1.1e-24), (170, 8.8e-25), (170.5, 7e-25), (171, 5.4e-25), (158, 1.75e-22),
    (186.5, 2e-22), (189.7, 1.3e-22), (186.5, 7.2e-23), (186.5, 6e-23), (186.5, 5e-23), (187, 4.2e-23), (187, 3.5e-23),
    (187, 2.9e-23), (187, 2.4e-23), (187, 2e-23), (187, 1.65e-23), (187, 1.35e-23), (187, 1.1e-23), (187, 9e-24),
    (187, 7.4e-24), (187.5, 6e-24), (187.5, 4.9e-24), (187.5, 4e-24), (187.5, 3.3e-24), (187.5, 2.7e-24), (187.5, 2.2e-24),
    (187.5, 1.8e-24), (187.5, 1.45e-24), (187.5, 1.2e-24), (187.5, 1e-24), (192, 3e-23), (192, 2.4e-23), (192, 1.9e-23),
    (192, 1.5e-23), (192, 1.2e-23), (192, 9.5e-24), (192.5, 7.5e-24), (192.5, 6e-24), (192.5, 4.8e-24), (192.5, 3.8e-24),
    (192.5, 3e-24), (193, 2.4e-24), (193, 1.9e-24), (193, 1.5e-24), (193, 1.2e-24), (193, 9.5e-25), (193, 7.5e-25),
    (189, 2.2e-23), (190, 2e-23), (191, 2.1e-23), (193, 1.9e-23), (194, 1.85e-23), (195, 1.8e-23), (196, 1.8e-23),
    (197, 1.75e-23), (198, 1.7e-23), (199, 1.7e-23), (200, 1.65e-23), (194, 2.05e-23), (196, 2.0e-23), (198, 1.95e-23),
]
orange_208_292 = [
    (210, 8.2e-23), (210, 6.8e-23), (210, 5.6e-23), (210.5, 4.6e-23), (210.5, 3.8e-23), (210.5, 3.2e-23), (211, 2.6e-23),
    (211, 2.2e-23), (211, 1.8e-23), (211, 1.5e-23), (211, 1.2e-23), (211, 1e-23), (211, 8.5e-24), (211, 7e-24),
    (211.5, 5.8e-24), (211.5, 4.8e-24), (211.5, 4e-24), (221.5, 1.3e-22), (221.5, 1.15e-22), (242.5, 4.2e-23),
    (257.5, 2.7e-23), (273.8, 1.1e-22), (273.8, 1.0e-22), (273.8, 1.7e-23), (277, 1.55e-23), (289, 2.3e-23),
    (213, 1.5e-23), (215, 1.6e-23), (217, 1.55e-23), (219, 1.5e-23), (221, 1.5e-23), (223, 1.4e-23), (225, 1.35e-23),
    (227, 1.25e-23), (229, 1.2e-23), (231, 1.15e-23), (233, 1.1e-23), (235, 1.05e-23), (237, 1.0e-23), (239, 9.7e-24),
    (241, 1.1e-23), (243, 1.05e-23), (245, 9.5e-24), (247, 9e-24), (249, 8.6e-24), (251, 8.2e-24), (253, 7.8e-24),
    (255, 7.5e-24), (257, 8.5e-24), (259, 7.2e-24), (261, 6.8e-24), (263, 6.5e-24), (265, 6.2e-24), (267, 6e-24),
    (269, 5.8e-24), (271, 5.7e-24), (275, 6.5e-24), (277, 5.8e-24), (279, 5.6e-24), (281, 5.5e-24), (283, 5.4e-24),
    (285, 5.4e-24), (287, 5.5e-24), (289, 5.6e-24), (291, 5.4e-24),
    (214, 1.3e-23), (216, 1.25e-23), (218, 1.2e-23), (220, 1.15e-23), (222, 1.1e-23), (224, 1.05e-23), (226, 1.0e-23),
    (228, 9.6e-24), (230, 9.2e-24), (232, 8.8e-24), (234, 8.5e-24), (236, 8.2e-24), (238, 7.9e-24), (240, 7.6e-24),
    (242, 8.5e-24), (244, 7.8e-24), (246, 7.4e-24), (248, 7e-24), (250, 6.8e-24), (252, 6.5e-24), (254, 6.3e-24),
    (256, 6.1e-24), (258, 6.0e-24), (260, 5.8e-24), (262, 5.6e-24), (264, 5.4e-24), (266, 5.3e-24), (268, 5.1e-24),
    (270, 5.0e-24), (276, 5.0e-24), (278, 4.9e-24), (280, 4.8e-24), (282, 4.8e-24), (284, 4.7e-24), (286, 4.7e-24),
    (288, 4.8e-24), (290, 4.8e-24),
    (215, 1.0e-23), (217, 9.5e-24), (219, 9e-24), (221, 8.5e-24), (223, 8e-24), (225, 7.7e-24), (227, 7.4e-24),
    (229, 7.1e-24), (231, 6.9e-24), (233, 6.7e-24), (235, 6.5e-24), (237, 6.3e-24), (239, 6.2e-24), (243, 6.0e-24),
    (245, 5.8e-24), (247, 5.7e-24), (249, 5.5e-24), (251, 5.4e-24), (253, 5.3e-24), (255, 5.2e-24), (259, 5.0e-24),
    (261, 4.9e-24), (263, 4.8e-24), (265, 4.7e-24), (267, 4.6e-24), (269, 4.5e-24), (277, 4.4e-24), (279, 4.4e-24),
    (281, 4.3e-24), (283, 4.3e-24), (285, 4.3e-24), (287, 4.3e-24), (289, 4.3e-24),
    (214, 1.45e-23), (216, 1.45e-23), (218, 1.4e-23), (220, 1.35e-23), (222, 1.3e-23), (224, 1.22e-23), (226, 1.15e-23),
    (228, 1.1e-23), (230, 1.05e-23), (232, 1.0e-23), (234, 9.7e-24), (236, 9.4e-24), (238, 9.1e-24), (240, 8.8e-24),
    (242, 9.6e-24), (244, 9.0e-24), (246, 8.6e-24), (248, 8.2e-24), (250, 7.8e-24), (252, 7.4e-24), (254, 7.1e-24),
    (256, 7.2e-24), (258, 6.8e-24), (260, 6.5e-24), (262, 6.2e-24), (264, 5.9e-24), (266, 5.7e-24), (268, 5.5e-24),
    (270, 5.4e-24), (272, 5.3e-24), (276, 5.6e-24), (278, 5.4e-24), (280, 5.2e-24), (282, 5.1e-24), (284, 5.1e-24),
    (286, 5.1e-24), (288, 5.2e-24), (290, 5.2e-24),
    (215, 1.15e-23), (217, 1.1e-23), (219, 1.05e-23), (221, 9.8e-24), (223, 9.3e-24), (225, 8.9e-24), (227, 8.5e-24),
    (229, 8.2e-24), (231, 7.9e-24), (233, 7.6e-24), (235, 7.4e-24), (237, 7.1e-24), (239, 6.9e-24), (241, 6.7e-24),
    (243, 6.9e-24), (245, 6.6e-24), (247, 6.4e-24), (249, 6.1e-24), (251, 5.9e-24), (253, 5.8e-24), (255, 5.6e-24),
    (257, 5.5e-24), (259, 5.4e-24), (261, 5.2e-24), (263, 5.1e-24), (265, 5.0e-24), (267, 4.9e-24), (269, 4.8e-24),
    (271, 4.7e-24), (275, 4.7e-24), (277, 4.6e-24), (279, 4.6e-24), (281, 4.55e-24), (283, 4.5e-24), (285, 4.5e-24),
    (287, 4.5e-24), (289, 4.55e-24), (291, 4.6e-24),
    (216, 8.8e-24), (220, 8.2e-24), (224, 7.5e-24), (228, 7e-24), (232, 6.6e-24), (236, 6.2e-24), (240, 6e-24),
    (244, 5.7e-24), (248, 5.4e-24), (252, 5.2e-24), (256, 5e-24), (260, 4.8e-24), (264, 4.6e-24), (268, 4.4e-24),
    (272, 4.3e-24), (278, 4.2e-24), (282, 4.1e-24), (286, 4.1e-24), (290, 4.1e-24),
    (217, 6e-24), (219, 5.6e-24), (221, 5.3e-24), (223, 5.1e-24), (225, 5e-24), (227, 4.9e-24), (229, 4.85e-24),
    (231, 4.8e-24), (233, 4.75e-24), (235, 4.7e-24), (237, 4.65e-24), (239, 4.6e-24), (241, 4.6e-24), (245, 4.55e-24),
    (249, 4.5e-24), (253, 4.5e-24), (257, 4.45e-24), (261, 4.4e-24), (265, 4.35e-24), (269, 4.3e-24), (273, 4.3e-24),
    (277, 4.2e-24), (281, 4.2e-24), (285, 4.15e-24), (289, 4.15e-24), (218, 7e-24), (222, 6.3e-24), (226, 5.8e-24),
    (230, 5.5e-24), (234, 5.3e-24), (238, 5.1e-24), (242, 5.2e-24), (246, 5.0e-24), (250, 4.9e-24), (254, 4.8e-24),
    (258, 4.7e-24), (262, 4.6e-24), (266, 4.55e-24),
    (213, 1.3e-23), (214, 1.1e-23), (215, 8.5e-24), (216, 7.3e-24), (217, 6.5e-24), (218, 6e-24), (219, 5.6e-24),
    (220, 5.2e-24), (213, 8e-24), (213.5, 6.5e-24), (214, 5.5e-24), (214, 4.6e-24), (215, 3.8e-24), (242, 9e-24),
    (242.5, 7.5e-24), (242.5, 6e-24), (242.5, 5e-24), (243, 4.2e-24), (243, 3.5e-24), (243, 3.0e-24), (243, 1.6e-23),
    (243, 1.35e-23), (257, 1.0e-23), (257.5, 8e-24), (257.5, 6.5e-24), (257.5, 4.3e-24), (257.5, 3.6e-24), (273, 9.5e-24),
    (274, 8e-24), (275, 6.5e-24), (274, 5.3e-24), (275, 4.3e-24), (274, 3.6e-24), (275, 3.0e-24), (276, 2.7e-24),
    (278, 7e-24), (279, 5e-24), (280, 3.8e-24), (274, 2.0e-24), (274, 1.4e-24),
]
orange_300_500 = [
    (310, 5.7e-23), (310, 4.1e-23), (310, 3.6e-23), (310, 1.4e-23), (310, 1.2e-23), (310, 1.05e-23),
    (335.5, 7e-23), (335.5, 6e-23), (335.5, 5e-23), (335.5, 4.2e-23), (335.5, 3.5e-23), (335.5, 3e-23), (335.5, 2.5e-23),
    (335.5, 2.1e-23), (335.5, 1.75e-23), (335.5, 1.5e-23), (335.5, 1.25e-23), (335.5, 1.05e-23), (335.5, 9e-24),
    (335.5, 7.5e-24), (335.5, 6.3e-24), (335.5, 5.3e-24), (335.5, 4.5e-24), (335.5, 3.8e-24), (335.5, 3.2e-24),
    (335.5, 2.7e-24), (334, 6e-24), (336, 5e-24), (337, 4.2e-24), (338, 3.6e-24), (339, 3.2e-24), (340, 2.8e-24),
    (341, 2.5e-24), (342, 2.2e-24), (343, 2e-24), (337, 6.5e-24), (339, 5.5e-24), (341, 4.5e-24), (343, 3.8e-24),
    (344, 3.2e-24), (345, 2.6e-24), (342, 7.5e-24), (343, 9e-24), (344, 6e-24), (338, 8e-24), (340, 1.0e-23), (342, 1.2e-23),
    (363.5, 6e-23), (363.5, 5e-23), (363.5, 4.2e-23), (363.5, 3.5e-23), (363.5, 2.9e-23), (363.5, 2.4e-23), (363.5, 2e-23),
    (363.5, 1.7e-23), (363.5, 1.4e-23), (363.5, 1.2e-23), (363.5, 1.0e-23), (363.5, 8.5e-24), (363.5, 7e-24),
    (363.5, 5.9e-24), (363.5, 5e-24),
    (381, 5.8e-23), (382, 5e-23), (383, 4.5e-23), (384, 5.5e-23), (385, 4.8e-23), (386, 4.2e-23), (387, 3.8e-23),
    (388, 3.4e-23), (389, 3.1e-23), (381, 4.2e-23), (382, 3.6e-23), (383, 3.2e-23), (384, 2.9e-23), (386, 3.3e-23),
    (388, 2.8e-23), (390, 2.9e-23), (390, 4e-23), (389, 2.6e-23), (383, 2.1e-23), (383, 1.8e-23), (383.5, 1.6e-23),
    (383.5, 1.45e-23), (384, 2e-23),
    (402.5, 6e-23), (402.5, 1.45e-23), (402.5, 1.2e-23), (402.5, 1.0e-23), (402.5, 8.5e-24), (402.5, 7e-24),
    (402.5, 5.8e-24), (402.5, 4.8e-24), (402.5, 4e-24), (402.5, 3.3e-24), (402.5, 3e-24), (402.5, 2e-24),
    (427, 2.6e-22), (429, 6.1e-23), (452, 5.6e-23), (461, 3.8e-23), (479.8, 4.3e-23), (422, 3.6e-23), (428, 3.4e-23),
    (429, 2.9e-23), (443, 1.9e-23), (434.3, 1.7e-23), (421, 2.1e-23), (439, 1.5e-23), (422.7, 6.7e-24), (485.8, 2.6e-23),
    (493, 3e-23),
    (420, 1.2e-23), (421, 1.05e-23), (422, 9.5e-24), (423, 8.5e-24), (421, 8e-24), (420.5, 1.35e-23), (422, 1.25e-23),
    (424, 1.1e-23), (425, 9.5e-24), (426, 8.5e-24),
    (425, 7.3e-24), (426, 6.5e-24), (427, 5.8e-24), (428, 5.2e-24), (429, 4.7e-24), (430, 4.2e-24), (431, 3.8e-24),
    (432, 3.4e-24), (433, 3.1e-24), (434, 2.8e-24), (435, 2.6e-24), (436, 2.4e-24), (437, 2.3e-24), (438, 2.5e-24),
    (439, 2.8e-24), (440, 3.3e-24), (427, 4.2e-24), (429, 3.6e-24), (431, 3.1e-24), (433, 2.7e-24), (435, 2.3e-24),
    (430, 6e-24), (432, 5.2e-24), (434, 4.5e-24), (436, 3.8e-24), (438, 3.3e-24), (428, 8e-24), (431, 8.5e-24),
    (434, 7e-24), (436, 9e-24), (437, 7.5e-24), (439, 6e-24), (440, 5e-24), (441, 4.2e-24), (442, 3.6e-24), (443, 3.1e-24),
    (444, 2.7e-24), (445, 2.4e-24), (446, 2.3e-24), (447, 2.5e-24), (448, 2.9e-24), (449, 3.4e-24), (450, 3.9e-24),
    (451, 4.3e-24), (452, 4.5e-24), (453, 4.3e-24), (454, 3.9e-24), (455, 3.4e-24), (456, 3.0e-24), (457, 2.7e-24),
    (458, 2.5e-24), (444, 6.5e-24), (445, 8e-24), (446, 6e-24), (447, 4.5e-24), (448, 5.5e-24), (449, 7e-24), (450, 6e-24),
    (452, 7.5e-24), (453, 6e-24), (455, 5.5e-24), (441, 9.5e-24), (443, 8.5e-24), (436, 1.1e-23), (433, 1.2e-23),
    (447, 1.05e-23), (450, 9e-24),
    (426, 1.0e-23), (427, 1.15e-23), (429, 1.0e-23), (430, 9e-24), (432, 1.0e-23), (433, 9e-24), (435, 9.5e-24),
    (437, 1.05e-23), (438, 9e-24), (440, 1.0e-23), (442, 1.1e-23), (444, 9.5e-24), (446, 8.8e-24), (448, 1.0e-23),
    (449, 9.2e-24), (451, 8.5e-24), (453, 9.5e-24), (454, 8e-24), (456, 7e-24), (457, 6e-24), (458, 5e-24), (426, 5e-24),
    (428, 6.5e-24), (430, 5.2e-24), (432, 4.3e-24), (434, 3.8e-24), (436, 3.2e-24), (438, 2.9e-24), (440, 2.5e-24),
    (442, 2.6e-24), (444, 3.5e-24), (446, 4e-24), (448, 4.2e-24), (450, 4.8e-24), (452, 5.3e-24), (454, 5e-24),
    (456, 4.2e-24), (458, 3.5e-24), (460, 3e-24), (464, 3.5e-24),
    (460, 1.2e-23), (460.5, 1.05e-23), (461, 9.2e-24), (461, 8e-24), (461, 7e-24), (461.5, 6.1e-24), (461.5, 5.3e-24),
    (462, 4.6e-24), (462, 4e-24), (462, 3.5e-24), (462.5, 3e-24), (462.5, 2.6e-24), (463, 2.3e-24), (459.5, 9e-24),
    (459, 7e-24), (463, 7.5e-24), (464, 6e-24),
    (465, 3.8e-24), (466, 4.2e-24), (467, 4.5e-24), (468, 4.7e-24), (469, 4.8e-24), (470, 4.8e-24), (471, 4.7e-24),
    (472, 4.5e-24), (473, 4.2e-24), (474, 3.9e-24), (475, 3.6e-24), (476, 3.4e-24), (466, 3.4e-24), (468, 3.8e-24),
    (470, 4.0e-24), (472, 3.8e-24), (474, 3.4e-24), (465, 3e-24), (467, 2.7e-24), (469, 3.2e-24), (471, 3.0e-24),
    (476, 4.2e-24), (477, 5e-24), (478, 6e-24),
    (478, 1.2e-23), (478.5, 1.05e-23), (479, 9e-24), (479, 7.8e-24), (479.5, 6.7e-24), (479.5, 5.8e-24), (480, 5e-24),
    (480, 4.3e-24), (480, 3.7e-24), (480.5, 3.2e-24), (480.5, 2.8e-24), (480.5, 2.4e-24), (481, 2.2e-24), (483, 1.5e-23),
    (483.5, 1.2e-23), (484, 1.0e-23), (484, 8.5e-24), (484.5, 7e-24), (485, 6e-24), (485, 5e-24), (485, 4.2e-24),
    (485.5, 3.6e-24), (486, 3.1e-24), (486, 2.7e-24), (482, 2.0e-23), (483, 1.8e-23), (486, 2.2e-23),
    (482, 4.5e-24), (482, 6e-24), (483, 8e-24), (484, 5.5e-24), (487, 4e-24), (488, 5e-24), (488, 6.5e-24), (489, 8e-24),
    (487, 1.0e-23), (488, 1.2e-23), (489, 1.0e-23),
    (490, 1.2e-23), (491, 1.1e-23), (492, 1.0e-23), (493, 9.2e-24), (494, 8.5e-24), (495, 7.8e-24), (491, 8.5e-24),
    (493, 7.5e-24), (495, 6.8e-24), (490.5, 7e-24), (492, 6.3e-24), (494, 6e-24), (490, 9.5e-24), (495, 1.05e-23),
    (493, 1.15e-23), (496, 9e-24), (496, 7.2e-24), (492, 8e-24), (494, 1.0e-23),
]

RED = red_start + red_40_125 + red_128_200 + red_208_292 + red_300_500
BLUE = blue_start + blue_40_125 + blue_128_200 + blue_208_292 + blue_300_500
ORANGE = orange_start + orange_40_125 + orange_128_200 + orange_208_292 + orange_300_500

SERIES = [
    (SERIES_NAMES[0], RED, "circle", "#FF0000", 10),
    (SERIES_NAMES[1], BLUE, "square", "#95B3D7", 9),
    (SERIES_NAMES[2], ORANGE, "triangle-up", "#E46C0A", 12),
]

FONT = "Liberation Serif, Times New Roman, serif"
GRID = "#A6A6A6"

fig = go.Figure()
for i, (name, pts, sym, col, size) in enumerate(SERIES):
    fig.add_trace(go.Scatter(
        x=[p[0] for p in pts], y=[p[1] for p in pts], mode="markers", name=name,
        legendgroup=f"g{i}",
        marker=dict(symbol=sym, color=col, size=size, line=dict(width=0)),
    ))

# grey legend panel (covers the grid, as in the reference)
fig.add_shape(
    type="rect", xref="paper", yref="paper", layer="above",
    x0=0.4575, x1=0.927, y0=0.7734, y1=0.983,
    fillcolor="#F2F2F2", line=dict(width=0),
)

fig.update_layout(
    width=1381, height=892, autosize=False,
    margin=dict(l=185, r=31, t=22, b=102),
    paper_bgcolor="white", plot_bgcolor="white",
    font=dict(family=FONT, color="black", size=30),
    showlegend=True,
    legend=dict(
        x=0.4584, y=0.9935, xanchor="left", yanchor="top",
        bgcolor="rgba(0,0,0,0)", borderwidth=0,
        font=dict(family=FONT, size=40, color="black"),
        tracegroupgap=0, itemwidth=40, itemsizing="trace",
    ),
    xaxis=dict(
        range=[0, 500], tickvals=X_TICKS, showgrid=True, gridcolor=GRID, gridwidth=1,
        showline=True, linecolor=GRID, linewidth=1, mirror=True, zeroline=False, automargin=False,
        ticks="outside", ticklen=7, tickcolor=GRID, ticklabelstandoff=3,
        tickfont=dict(family=FONT, size=31, color="black"),
        title=dict(text=X_TITLE, font=dict(family=FONT, size=42, color="black", weight="bold"), standoff=14),
    ),
    yaxis=dict(
        type="log", range=[-25, -20], tickvals=Y_TICK_VALUES, ticktext=Y_TICK_LABELS,
        showgrid=True, gridcolor=GRID, gridwidth=1, automargin=False,
        showline=True, linecolor=GRID, linewidth=2, mirror=True, zeroline=False,
        ticks="outside", ticklen=8, tickcolor=GRID, ticklabelstandoff=17,
        tickfont=dict(family=FONT, size=34, color="black"),
        title=dict(text=Y_TITLE, font=dict(family=FONT, size=41, color="black", weight="bold"), standoff=5),
    ),
)

fig.write_html("out.html")
